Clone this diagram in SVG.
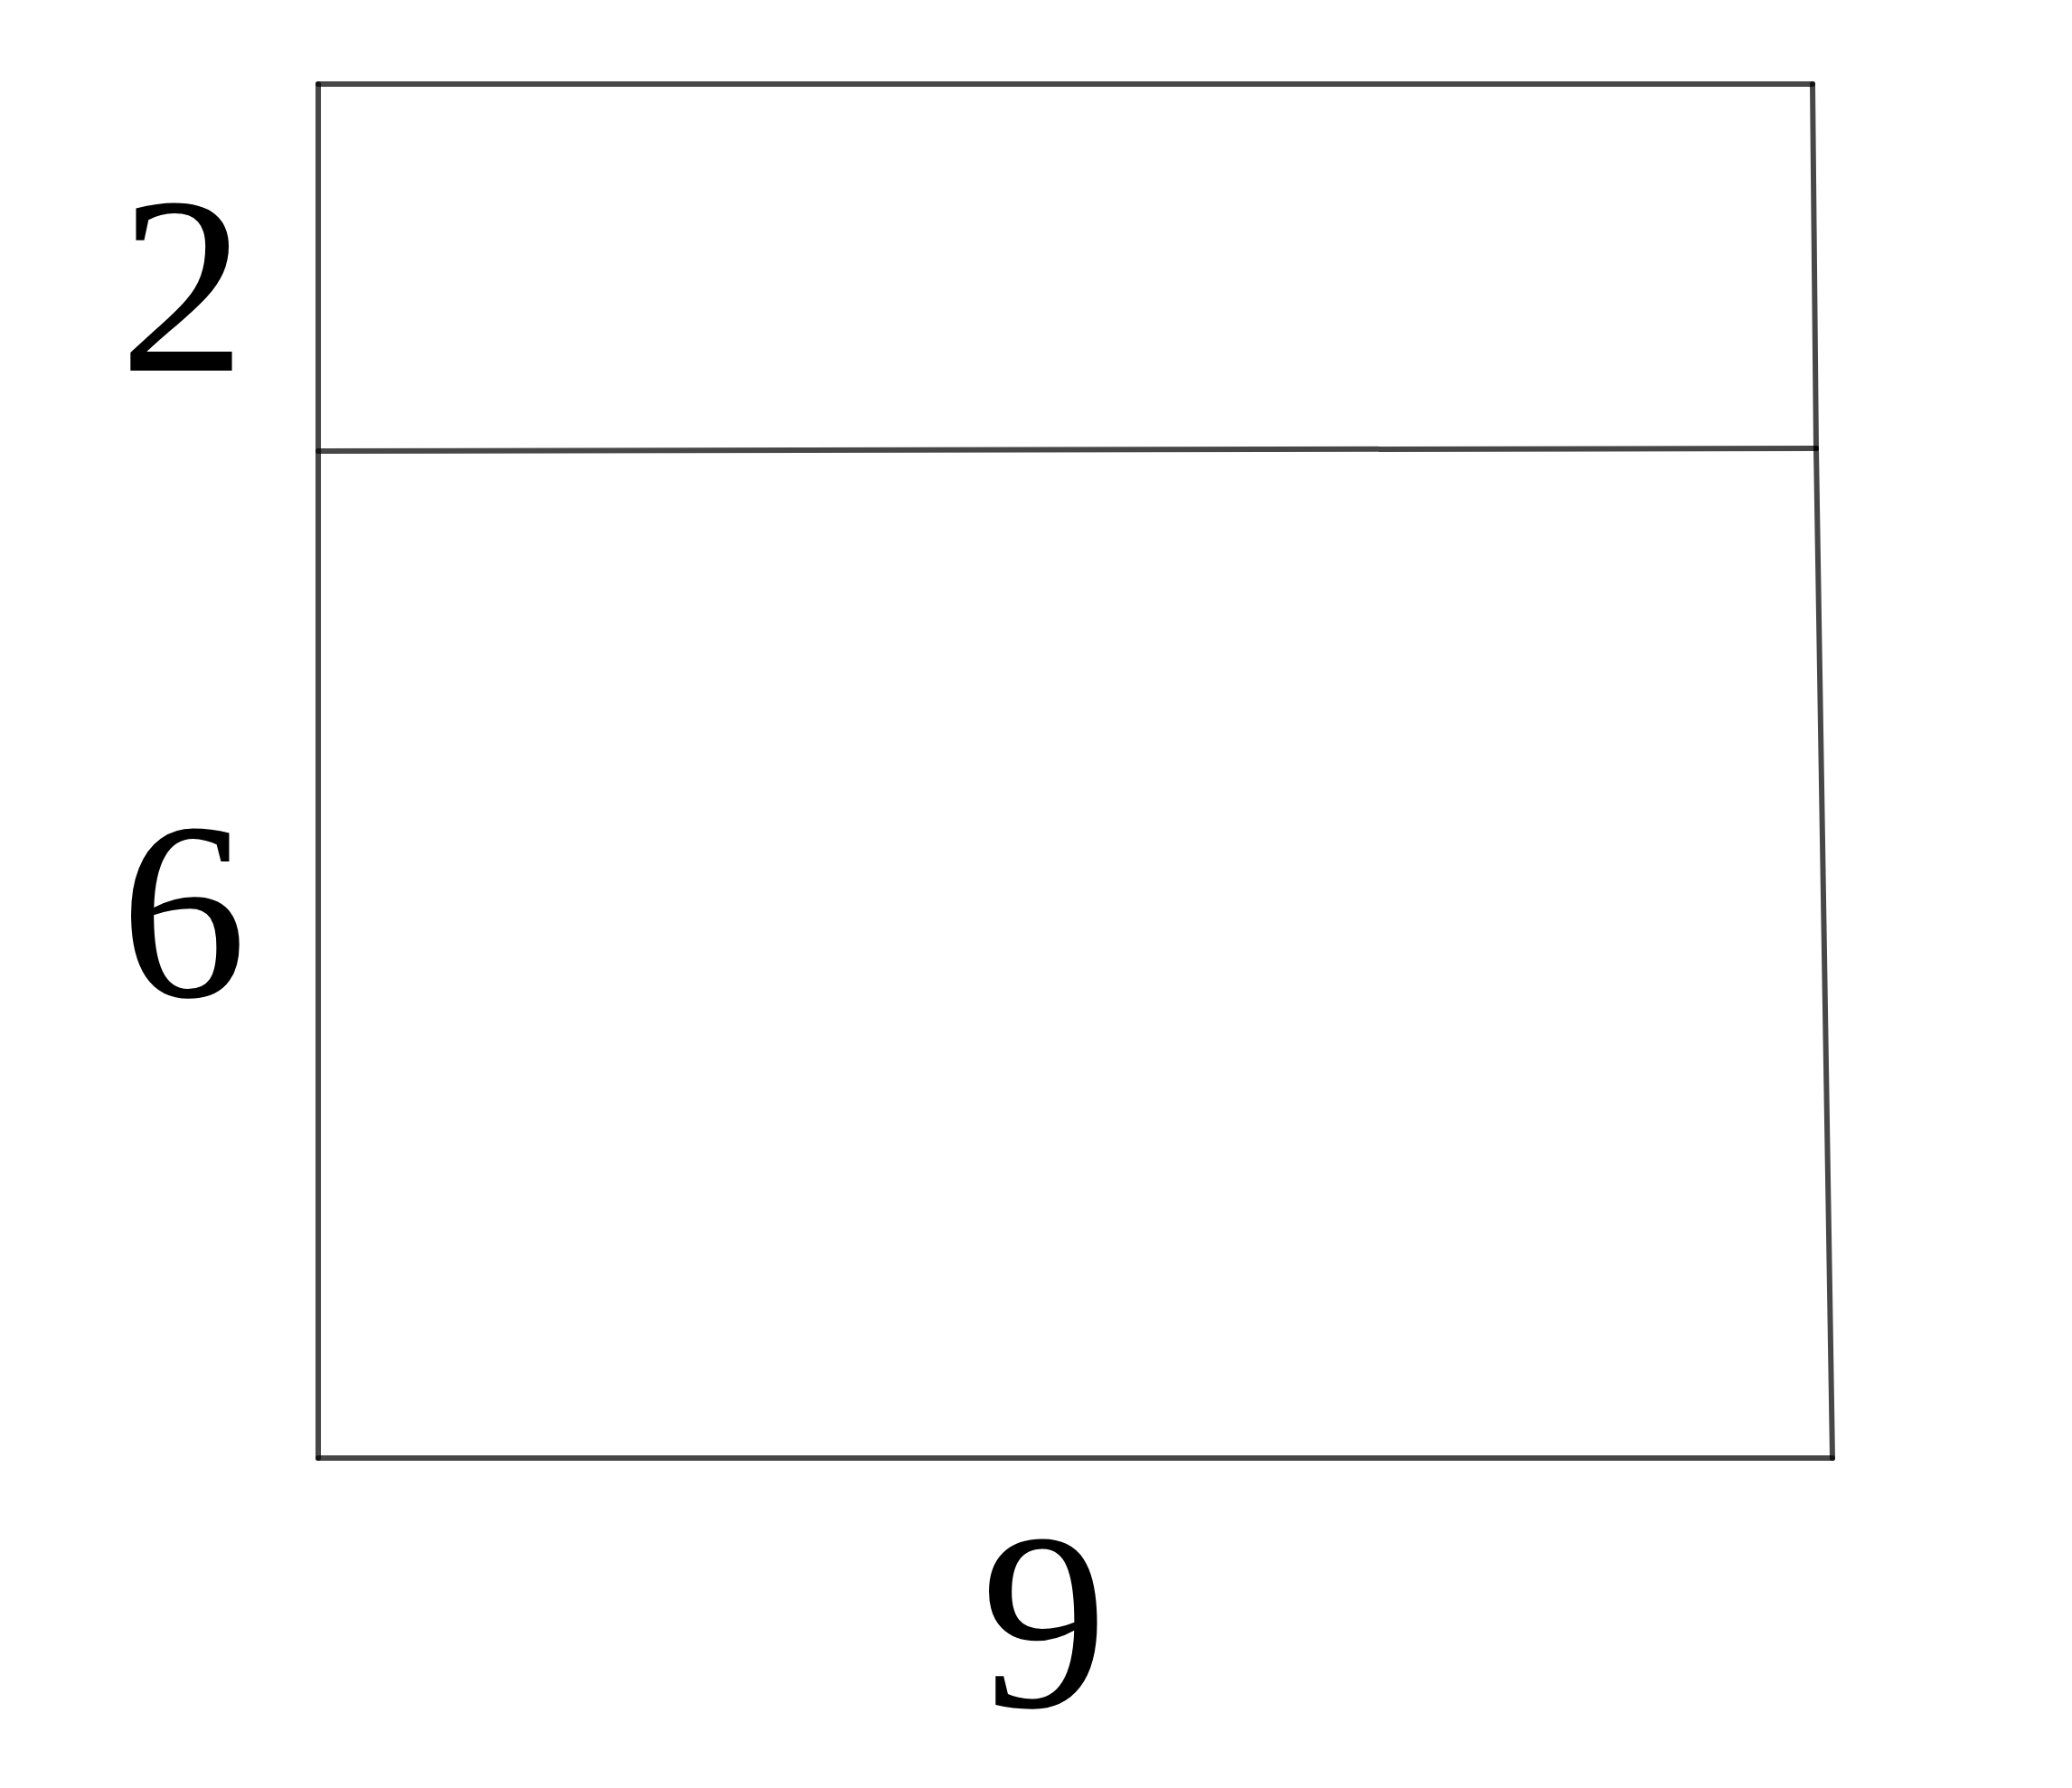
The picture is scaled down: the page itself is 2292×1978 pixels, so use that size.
<svg xmlns="http://www.w3.org/2000/svg" width="2292" height="1978" viewBox="0 0 2292 1978">
<style>
.edge{stroke:#000;stroke-opacity:0.72;stroke-width:6;stroke-linecap:round;fill:none}
.lbl{font-family:"Liberation Serif","DejaVu Serif",serif;font-size:280px;fill:#000;text-anchor:middle}
</style>
<rect width="2292" height="1978" fill="#fff"/>
<g id="edges">
<line class="edge" x1="352" y1="93" x2="2005" y2="93"/>
<line class="edge" x1="352" y1="499" x2="2009" y2="496"/>
<line class="edge" x1="352" y1="1613" x2="2027" y2="1613"/>
<line class="edge" x1="352" y1="93" x2="352" y2="1613"/>
<line class="edge" x1="2005" y1="93" x2="2009" y2="496"/>
<line class="edge" x1="2009" y1="496" x2="2027" y2="1613"/>
</g>
<g id="label-2"><text class="lbl" x="202" y="410">2</text></g>
<g id="label-6"><text class="lbl" x="203" y="1102">6</text></g>
<g id="label-9"><text class="lbl" x="1155" y="1888">9</text></g>
</svg>
